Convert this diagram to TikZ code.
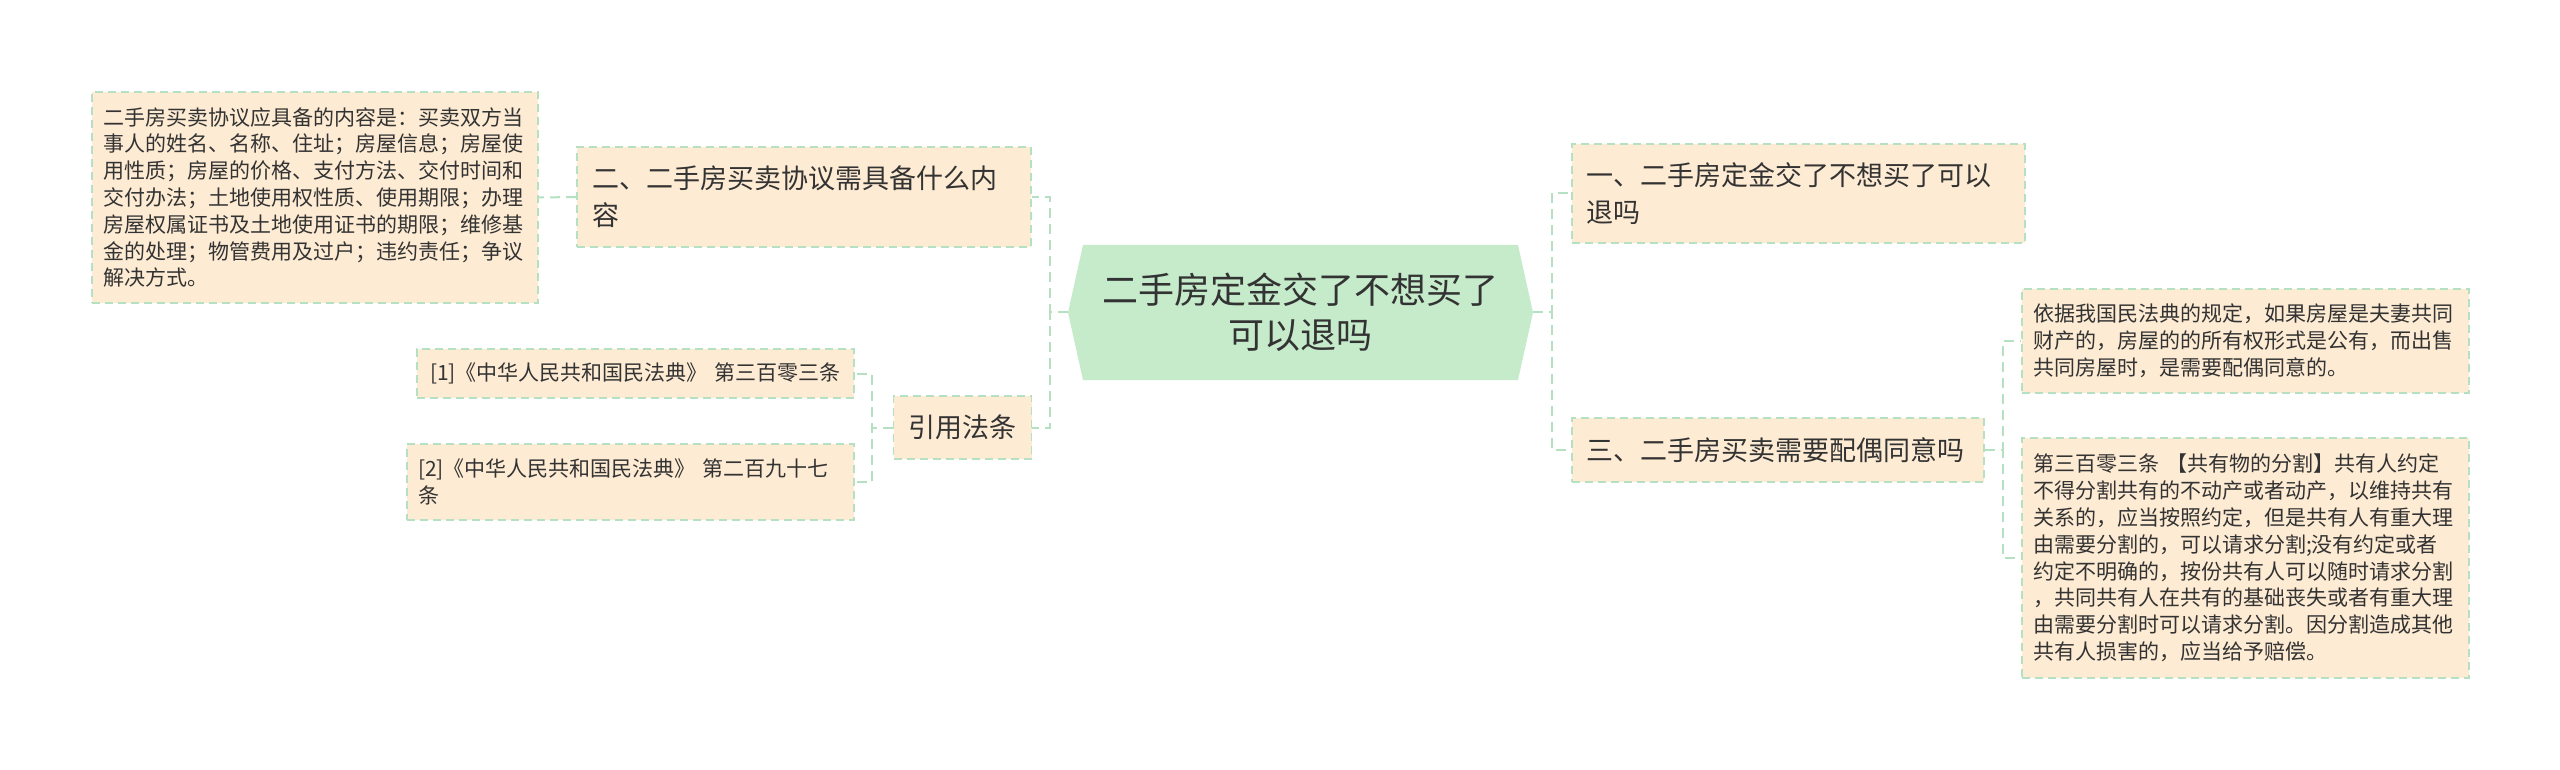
\documentclass[tikz,border=0pt]{standalone}
\usepackage{fontspec}
\setmainfont{Noto Sans CJK SC}
\definecolor{boxfill}{HTML}{FDEBD3}
\definecolor{linegreen}{HTML}{B5E0C2}
\definecolor{rootgreen}{HTML}{C5EBCB}
\definecolor{inkgray}{HTML}{333333}

\begin{document}
\begin{tikzpicture}[
                    x=0.5pt, y=-0.5pt, % one unit is one pixel of the 2560 x 770 sheet
                    every node/.style={text=inkgray, inner ysep=0pt},
                    topic/.style={rectangle, fill=boxfill, draw=linegreen, line width=0.8pt,
                        dash pattern=on 4pt off 2.5pt, align=left, inner xsep=7.5pt,
                        font=\fontsize{13.5pt}{18.5pt}\selectfont},
                    leaf/.style={topic, inner xsep=5.5pt,
                        font=\fontsize{10.5pt}{13.4pt}\selectfont},
                    root/.style={rectangle, inner sep=0pt, align=center,
                        minimum width=232.5pt, minimum height=67.5pt,
                        font=\fontsize{18pt}{22.5pt}\selectfont,
                        path picture={\fill[rootgreen] (path picture bounding box.west)
                            -- ([xshift=7.5pt]path picture bounding box.north west)
                            -- ([xshift=-7.5pt]path picture bounding box.north east)
                            -- (path picture bounding box.east)
                            -- ([xshift=-7.5pt]path picture bounding box.south east)
                            -- ([xshift=7.5pt]path picture bounding box.south west) -- cycle;}},
                    link/.style={draw=linegreen, line width=1pt, dash pattern=on 5pt off 3pt}
                ]
                \useasboundingbox (0,0) rectangle (2560,770);

                \node[root] (center) at (1300.5,312.5) {二手房定金交了不想买了\\可以退吗};

                % left branch
                \node[topic, text width=212pt, minimum height=50pt] (deal) at (804,197)
                    {二、二手房买卖协议需具备什么内\\容};
                \node[leaf, text width=212pt, minimum height=105.5pt] (dealtext) at (315,197.5)
                    {二手房买卖协议应具备的内容是：买卖双方当\\
                     事人的姓名、名称、住址；房屋信息；房屋使\\
                     用性质；房屋的价格、支付方法、交付时间和\\
                     交付办法；土地使用权性质、使用期限；办理\\
                     房屋权属证书及土地使用证书的期限；维修基\\
                     金的处理；物管费用及过户；违约责任；争议\\
                     解决方式。};
                \node[topic, minimum width=68.5pt, minimum height=31.5pt, align=center] (cite) at (962.5,427.5) {引用法条};
                \node[leaf, inner xsep=6.5pt, text width=205.5pt, minimum height=24.5pt] (citeone) at (635.5,373.5)
                    {[1]《中华人民共和国民法典》 第三百零三条};
                \node[leaf, text width=212.5pt, minimum height=38pt] (citetwo) at (630.5,482)
                    {[2]《中华人民共和国民法典》 第二百九十七\\条};

                % right branch
                \node[topic, inner xsep=7pt, text width=212.5pt, minimum height=49.5pt] (refund) at (1798.5,193.5)
                    {一、二手房定金交了不想买了可以\\退吗};
                \node[topic, inner xsep=7pt, text width=192pt, minimum height=32pt] (spouse) at (1778,450)
                    {三、二手房买卖需要配偶同意吗};
                \node[leaf, text width=212.5pt, minimum height=52pt] (spouseone) at (2245.5,341)
                    {依据我国民法典的规定，如果房屋是夫妻共同\\
                     财产的，房屋的的所有权形式是公有，而出售\\
                     共同房屋时，是需要配偶同意的。};
                \node[leaf, text width=212.5pt, minimum height=120pt] (spousetwo) at (2245.5,558)
                    {第三百零三条 【共有物的分割】共有人约定\\
                     不得分割共有的不动产或者动产，以维持共有\\
                     关系的，应当按照约定，但是共有人有重大理\\
                     由需要分割的，可以请求分割;没有约定或者\\
                     约定不明确的，按份共有人可以随时请求分割\\
                     ，共同共有人在共有的基础丧失或者有重大理\\
                     由需要分割时可以请求分割。因分割造成其他\\
                     共有人损害的，应当给予赔偿。};

                \draw[link] (center.west) -- ++(-18,0) |- (deal.east);
                \draw[link] (center.west) -- ++(-18,0) |- (cite.east);
                \draw[link] (deal.west) -- (dealtext.east);
                \draw[link] (cite.west) -- ++(-21,0) |- (citeone.east);
                \draw[link] (cite.west) -- ++(-21,0) |- (citetwo.east);
                \draw[link] (center.east) -- ++(19,0) |- (refund.west);
                \draw[link] (center.east) -- ++(19,0) |- (spouse.west);
                \draw[link] (spouse.east) -- ++(18,0) |- (spouseone.west);
                \draw[link] (spouse.east) -- ++(18,0) |- (spousetwo.west);
            \end{tikzpicture}
\end{document}
